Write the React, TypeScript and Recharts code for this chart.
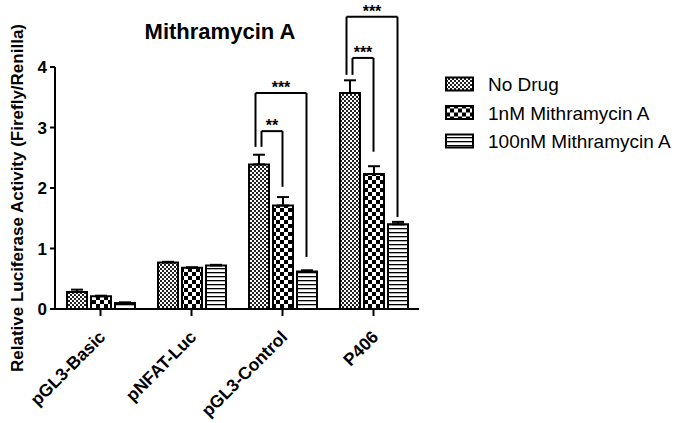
import React from "react";
import {
  BarChart,
  Bar,
  XAxis,
  YAxis,
  ErrorBar,
  ReferenceLine,
} from "recharts";

// categories and series values
const categories = ["pGL3-Basic", "pNFAT-Luc", "pGL3-Control", "P406"];
const noDrug = [0.28, 0.77, 2.39, 3.57];
const noDrugErr = [0.04, 0.01, 0.16, 0.21];
const nM1 = [0.21, 0.68, 1.71, 2.23];
const nM1Err = [0.01, 0.01, 0.14, 0.13];
const nM100 = [0.1, 0.72, 0.62, 1.4];
const nM100Err = [0.01, 0.01, 0.02, 0.04];
const yTicks = [0, 1, 2, 3, 4];

// significance brackets: category, bars joined, heights in data units
const brackets = [
  { cat: 2, from: 0, to: 1, top: 2.94, fromEnd: 2.68, toEnd: 2.02, label: "**" },
  { cat: 2, from: 0, to: 2, top: 3.57, fromEnd: 2.68, toEnd: 0.86, label: "***" },
  { cat: 3, from: 0, to: 1, top: 4.15, fromEnd: 3.87, toEnd: 2.6, label: "***" },
  { cat: 3, from: 0, to: 2, top: 4.83, fromEnd: 3.87, toEnd: 1.52, label: "***" },
];

const seriesNames = ["No Drug", "1nM Mithramycin A", "100nM Mithramycin A"];

const data = categories.map((name, i) => ({
  name,
  idx: i,
  noDrug: noDrug[i],
  noDrugErr: [0, noDrugErr[i]],
  nM1: nM1[i],
  nM1Err: [0, nM1Err[i]],
  nM100: nM100[i],
  nM100Err: [0, nM100Err[i]],
}));

const W = 681;
const H = 423;
const MARGIN = { top: 67, right: 262, left: 0, bottom: 4 };
const Y_AXIS_W = 55;
const PLOT_W = W - MARGIN.left - MARGIN.right - Y_AXIS_W;
const BAR = 20;
const GAP = 4;
const FONT = '"Liberation Sans", Arial, sans-serif';

// bar centre in units of the hidden index axis (one unit per category)
const bandPx = PLOT_W / categories.length;
const barX = (cat: number, bar: number, nudgePx = 0) =>
  cat + ((bar - 1) * (BAR + GAP) + nudgePx) / bandPx;

const XTick = (props: any) => {
  const { x, y, payload } = props;
  return (
    <g transform={`translate(${x + 6},${y + 22})`}>
      <text
        x={0}
        y={0}
        transform="rotate(-45)"
        textAnchor="end"
        fill="#000"
        fontSize={17.5}
        fontWeight="bold"
        fontFamily={FONT}
      >
        {payload.value}
      </text>
    </g>
  );
};

const Patterns = ({ prefix }: { prefix: string }) => (
  <defs>
    <pattern id={`${prefix}nd`} width={4} height={4} patternUnits="userSpaceOnUse">
      <rect width={4} height={4} fill="#fff" />
      <rect x={0} y={0} width={2} height={2} fill="#222" />
      <rect x={2} y={2} width={2} height={2} fill="#222" />
    </pattern>
    <pattern id={`${prefix}n1`} width={8} height={8} patternUnits="userSpaceOnUse">
      <rect width={8} height={8} fill="#fff" />
      <rect x={0} y={0} width={4} height={4} fill="#000" />
      <rect x={4} y={4} width={4} height={4} fill="#000" />
    </pattern>
    <pattern id={`${prefix}n100`} width={4} height={4} patternUnits="userSpaceOnUse">
      <rect width={4} height={4} fill="#fff" />
      <rect x={0} y={0} width={4} height={1.3} fill="#000" />
    </pattern>
  </defs>
);

const fills = ["url(#cnd)", "url(#cn1)", "url(#cn100)"];
const legendFills = ["url(#lnd)", "url(#ln1)", "url(#ln100)"];

export default function App() {
  return (
    <div style={{ position: "absolute", left: 0, top: 0, width: W, height: H, background: "#fff" }}>
      <BarChart
        width={W}
        height={H}
        data={data}
        margin={MARGIN}
        barSize={BAR}
        barGap={GAP}
      >
        <Patterns prefix="c" />
        <XAxis
          xAxisId="cat"
          dataKey="name"
          height={110}
          tickSize={7}
          tickMargin={0}
          stroke="#000"
          strokeWidth={2}
          tick={<XTick />}
          interval={0}
        />
        <XAxis
          xAxisId="num"
          dataKey="idx"
          type="number"
          domain={[-0.5, categories.length - 0.5]}
          allowDataOverflow
          hide
        />
        <YAxis
          width={Y_AXIS_W}
          domain={[0, 4]}
          ticks={yTicks}
          tickSize={5}
          tickMargin={3}
          stroke="#000"
          strokeWidth={2}
          tick={{ fill: "#000", fontSize: 17, fontWeight: "bold", fontFamily: FONT }}
          label={{
            content: () => (
              <text
                transform="translate(23,198) rotate(-90)"
                textAnchor="middle"
                fill="#000"
                fontSize={17}
                fontWeight="bold"
                fontFamily={FONT}
              >
                Relative Luciferase Activity (Firefly/Renilla)
              </text>
            ),
          }}
        />
        <Bar xAxisId="cat" dataKey="noDrug" fill={fills[0]} stroke="#000" strokeWidth={2} isAnimationActive={false}>
          <ErrorBar dataKey="noDrugErr" width={6} stroke="#000" strokeWidth={2} direction="y" />
        </Bar>
        <Bar xAxisId="cat" dataKey="nM1" fill={fills[1]} stroke="#000" strokeWidth={2} isAnimationActive={false}>
          <ErrorBar dataKey="nM1Err" width={6} stroke="#000" strokeWidth={2} direction="y" />
        </Bar>
        <Bar xAxisId="cat" dataKey="nM100" fill={fills[2]} stroke="#000" strokeWidth={2} isAnimationActive={false}>
          <ErrorBar dataKey="nM100Err" width={6} stroke="#000" strokeWidth={2} direction="y" />
        </Bar>
        {brackets.flatMap((b, i) => {
          const xl = barX(b.cat, b.from, b.to === 2 ? -3 : 3);
          const xr = barX(b.cat, b.to);
          const common = { xAxisId: "num", ifOverflow: "visible" as const, stroke: "#000", strokeWidth: 2 };
          return [
            <ReferenceLine key={`l${i}`} {...common} segment={[{ x: xl, y: b.fromEnd }, { x: xl, y: b.top }]} />,
            <ReferenceLine
              key={`t${i}`}
              {...common}
              segment={[{ x: xl, y: b.top }, { x: xr, y: b.top }]}
              label={{ value: b.label, position: "top", offset: 0, fill: "#000", fontSize: 16, fontWeight: "bold", fontFamily: FONT }}
            />,
            <ReferenceLine key={`r${i}`} {...common} segment={[{ x: xr, y: b.top }, { x: xr, y: b.toEnd }]} />,
          ];
        })}
      </BarChart>
      <svg width={W} height={H} style={{ position: "absolute", left: 0, top: 0, pointerEvents: "none" }}>
        <Patterns prefix="l" />
        <text x={220} y={39} textAnchor="middle" fontSize={22} fontWeight="bold" fontFamily={FONT} fill="#000">
          Mithramycin A
        </text>
        {seriesNames.map((s, i) => (
          <g key={s} transform={`translate(446,${84 + i * 28.5})`}>
            <rect x={0} y={-6.5} width={27} height={13} fill={legendFills[i]} stroke="#000" strokeWidth={2} />
            <text x={42} y={7} fontSize={19} fontFamily={FONT} fill="#000">
              {s}
            </text>
          </g>
        ))}
      </svg>
    </div>
  );
}
